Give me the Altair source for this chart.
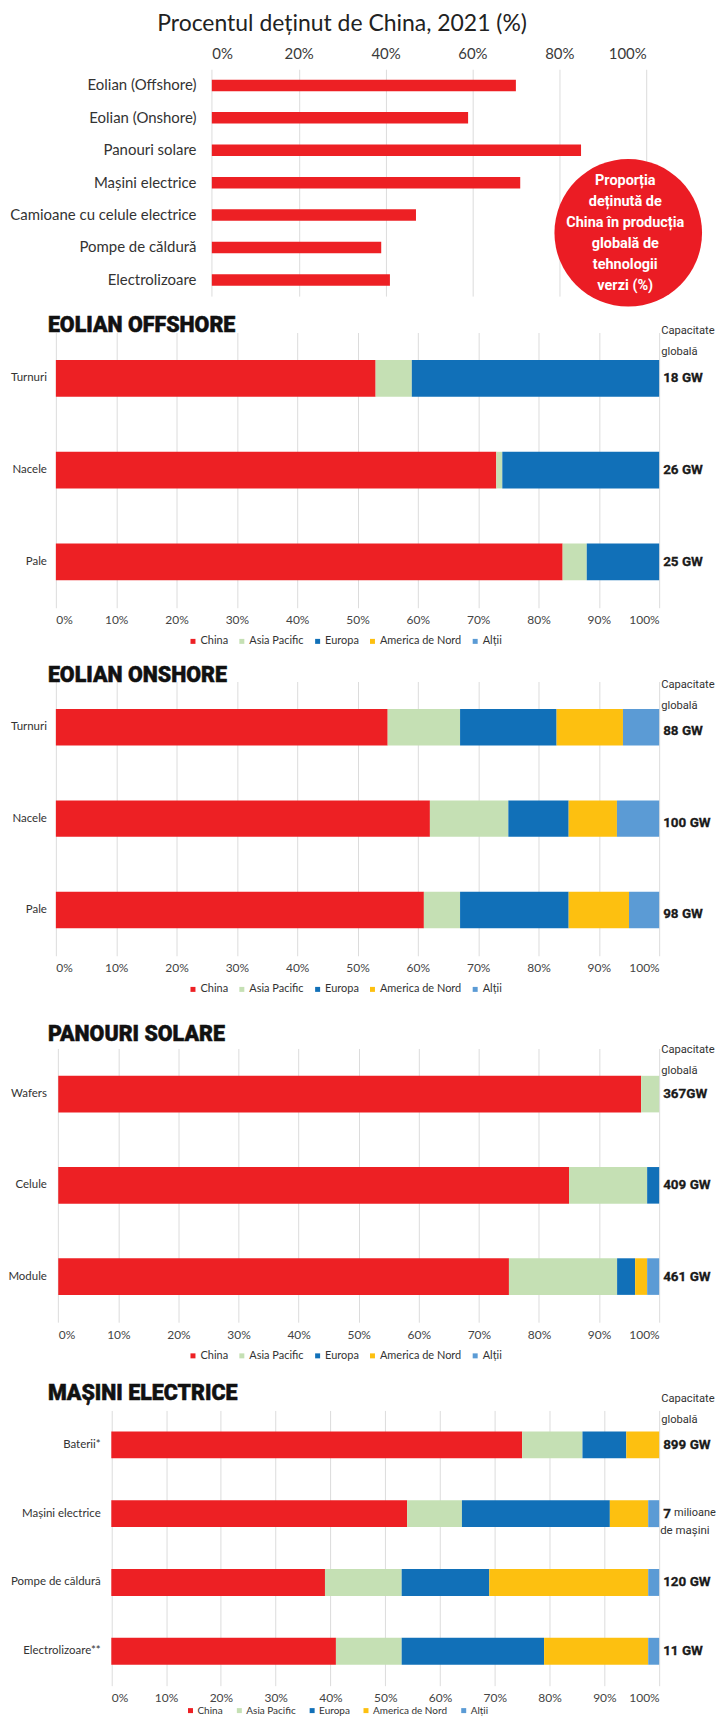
import altair as alt
import pandas as pd

FONT = "Lato"
NARROW = "Roboto"

# ---------------- data ----------------
regions = ["China", "Asia Pacific", "Europa", "America de Nord", "Alții"]
region_colors = ["#ED2024", "#C5E0B4", "#1170B8", "#FDC010", "#5B9BD5"]

top_title = "Procentul deținut de China, 2021 (%)"
top_cats = ["Eolian (Offshore)", "Eolian (Onshore)", "Panouri solare", "Mașini electrice",
            "Camioane cu celule electrice", "Pompe de căldură", "Electrolizoare"]
top_vals = [70, 59, 85, 71, 47, 39, 41]
top_ticks = [0, 20, 40, 60, 80, 100]
badge_text = "Proporția\ndeținută de\nChina în producția\nglobală de\ntehnologii\nverzi (%)"

cap_head = "Capacitate\nglobală"
sec_ticks = [0, 10, 20, 30, 40, 50, 60, 70, 80, 90, 100]

off_title = "EOLIAN OFFSHORE"
off_cats = ["Turnuri", "Nacele", "Pale"]
off_china = [53, 73, 84]
off_asia = [6, 1, 4]
off_europa = [41, 26, 12]
off_na = [0, 0, 0]
off_altii = [0, 0, 0]
off_cap = ["18 GW", "26 GW", "25 GW"]

on_title = "EOLIAN ONSHORE"
on_cats = ["Turnuri", "Nacele", "Pale"]
on_china = [55, 62, 61]
on_asia = [12, 13, 6]
on_europa = [16, 10, 18]
on_na = [11, 8, 10]
on_altii = [6, 7, 5]
on_cap = ["88 GW", "100 GW", "98 GW"]

sol_title = "PANOURI SOLARE"
sol_cats = ["Wafers", "Celule", "Module"]
sol_china = [97, 85, 75]
sol_asia = [3, 13, 18]
sol_europa = [0, 2, 3]
sol_na = [0, 0, 2]
sol_altii = [0, 0, 2]
sol_cap = ["367GW", "409 GW", "461 GW"]

ev_title = "MAȘINI ELECTRICE"
ev_cats = ["Baterii*", "Mașini electrice", "Pompe de căldură", "Electrolizoare**"]
ev_china = [75, 54, 39, 41]
ev_asia = [11, 10, 14, 12]
ev_europa = [8, 27, 16, 26]
ev_na = [6, 7, 29, 19]
ev_altii = [0, 2, 2, 2]
ev_cap = ["899 GW", "7", "120 GW", "11 GW"]
ev_unit_cat = ["Mașini electrice"]
ev_unit_a = ["milioane"]
ev_unit_b = ["de mașini"]

W = 605


def txt(df_text, **kw):
    return alt.Chart(pd.DataFrame({"t": [df_text]})).mark_text(**kw).encode(text="t:N")


# ---------------- top chart ----------------
tdf = pd.DataFrame({"cat": top_cats, "v": top_vals})
tys = alt.Scale(domain=top_cats, paddingInner=0.646, paddingOuter=0.323)
top_bars = alt.Chart(tdf).mark_bar(color="#ED2024").encode(
    x=alt.X("v:Q", scale=alt.Scale(domain=[0, 100], range=[156.4, 592], nice=False),
            axis=alt.Axis(orient="top", values=top_ticks, labelExpr="datum.value + '%'",
                          grid=True, ticks=False, domain=False, title=None,
                          labelFont=FONT, labelFontSize=15, labelColor="#3a3a3a",
                          labelPadding=8, gridColor="#DCDCDC", gridWidth=1)),
    y=alt.Y("cat:N", scale=tys, axis=None),
)
top_labels = alt.Chart(tdf).mark_text(align="right", baseline="middle", font=FONT,
                                      fontSize=15, color="#333").encode(
    y=alt.Y("cat:N", scale=tys, axis=None), x=alt.value(141), text="cat:N")
badge = alt.Chart(pd.DataFrame({"b": [1]})).mark_point(
    shape="circle", filled=True, size=21904, color="#EB1C24", opacity=1, strokeWidth=0
).encode(x=alt.value(574), y=alt.value(164))
badge_t = txt(badge_text, lineBreak="\n", align="center", baseline="middle", font=NARROW,
              fontWeight="bold", fontSize=14.5, lineHeight=21, color="white").encode(
    x=alt.value(571), y=alt.value(112))
top_t = txt(top_title, align="center", baseline="middle", font=FONT, fontSize=23,
            color="#222").encode(x=alt.value(287), y=alt.value(-45))
anchor = alt.Chart(pd.DataFrame({"a": [0]})).mark_rect(color="white").encode(
    x=alt.value(-46), x2=alt.value(-45), y=alt.value(-59), y2=alt.value(-58))

top_chart = alt.layer(anchor, top_bars, top_labels, badge, badge_t, top_t).properties(
    width=W, height=227.5)


# ---------------- sections ----------------
def section(title, cats, series, caps, h, pi, xr, lx, head_y, title_y, cap_dy,
            leg_y=28, leg_font=11, leg_x=132, leg_pad=8, extra=None):
    rows = []
    for i, c in enumerate(cats):
        for j, r in enumerate(regions):
            rows.append({"cat": c, "reg": r, "ord": j, "v": series[j][i]})
    df = pd.DataFrame(rows)
    ys = alt.Scale(domain=cats, paddingInner=pi, paddingOuter=pi / 2)
    bars = alt.Chart(df).mark_bar().encode(
        x=alt.X("v:Q", stack="zero",
                scale=alt.Scale(domain=[0, 100], range=xr, nice=False),
                axis=alt.Axis(orient="bottom", values=sec_ticks, labelExpr="datum.value + '%'",
                              grid=True, ticks=False, domain=False, title=None,
                              labelFont=FONT, labelFontSize=12, labelColor="#444",
                              labelPadding=7, gridColor="#DCDCDC", gridWidth=1)),
        y=alt.Y("cat:N", scale=ys, axis=None),
        color=alt.Color("reg:N", scale=alt.Scale(domain=regions, range=region_colors),
                        legend=alt.Legend(orient="none", legendX=leg_x, legendY=h + leg_y,
                                          direction="horizontal", title=None,
                                          symbolType="square", symbolSize=25,
                                          symbolStrokeWidth=0, labelFont=FONT,
                                          labelFontSize=leg_font, labelColor="#333",
                                          labelOffset=2, columnPadding=leg_pad, padding=0)),
        order=alt.Order("ord:Q"),
    )
    ldf = pd.DataFrame({"cat": cats, "cap": caps})
    labels = alt.Chart(ldf).mark_text(align="right", baseline="middle", font=FONT,
                                      fontSize=11.5, color="#333").encode(
        y=alt.Y("cat:N", scale=ys, axis=None), x=alt.value(lx), text="cat:N")
    capl = alt.Chart(ldf).mark_text(align="left", baseline="middle", font=NARROW,
                                    fontWeight="bold", fontSize=13.5, color="#1a1a1a",
                                    stroke="#1a1a1a", strokeWidth=0.3,
                                    dy=cap_dy, limit=53).encode(
        y=alt.Y("cat:N", scale=ys, axis=None), x=alt.value(609), text="cap:N")
    head = txt(cap_head, lineBreak="\n", align="left", baseline="middle", font=NARROW,
               fontSize=11.2, lineHeight=21, color="#333").encode(
        x=alt.value(607), y=alt.value(head_y))
    ttl = txt(title, align="left", baseline="alphabetic", font=NARROW, fontWeight=900,
              fontSize=21.5, color="#111", stroke="#111", strokeWidth=0.5).encode(
        x=alt.value(-8), y=alt.value(title_y))
    layers = [bars, labels, capl, head, ttl]
    if extra is not None:
        layers += extra(ys)
    return alt.layer(*layers).properties(width=W, height=h)


def ev_extra(ys):
    udf = pd.DataFrame({"cat": ev_unit_cat, "a": ev_unit_a, "b": ev_unit_b})
    ua = alt.Chart(udf).mark_text(align="left", baseline="middle", font=NARROW,
                                  fontSize=11, color="#333", dy=-1, limit=42,
                                  ellipsis="").encode(
        y=alt.Y("cat:N", scale=ys, axis=None), x=alt.value(620), text="a:N")
    ub = alt.Chart(udf).mark_text(align="left", baseline="middle", font=NARROW,
                                  fontSize=11.5, color="#333", dy=17, limit=55).encode(
        y=alt.Y("cat:N", scale=ys, axis=None), x=alt.value(606), text="b:N")
    return [ua, ub]


sec_off = section(off_title, off_cats, [off_china, off_asia, off_europa, off_na, off_altii],
                  off_cap, 276, 0.601, [0, W], -9, -1, -1, 0)
sec_on = section(on_title, on_cats, [on_china, on_asia, on_europa, on_na, on_altii],
                 on_cap, 275, 0.602, [0, W], -9, 4, 0, 4)
sec_sol = section(sol_title, sol_cats, [sol_china, sol_asia, sol_europa, sol_na, sol_altii],
                  sol_cap, 274.5, 0.599, [2.4, W], -9, 2, -7, 0)
sec_ev = section(ev_title, ev_cats, [ev_china, ev_asia, ev_europa, ev_na, ev_altii],
                 ev_cap, 276, 0.609, [55.6, W], 45, -11, -10, 0, leg_y=20, leg_font=10,
                 leg_x=130, leg_pad=11, extra=ev_extra)


def spacer(h):
    return alt.Chart(pd.DataFrame({"a": [0]})).mark_rect(opacity=0).encode(
        x=alt.value(0), x2=alt.value(1), y=alt.value(0), y2=alt.value(1)
    ).properties(width=W, height=h)


chart = alt.vconcat(
    top_chart, spacer(35.5), sec_off, spacer(74), sec_on, spacer(93), sec_sol,
    spacer(87.5), sec_ev, spacing=0, bounds="flush"
).resolve_scale(x="independent", y="independent", color="independent").resolve_legend(
    color="independent"
).properties(padding=0, background="white").configure_view(stroke=None)

chart.save("out.html", embed_options={"renderer": "svg", "actions": False})
